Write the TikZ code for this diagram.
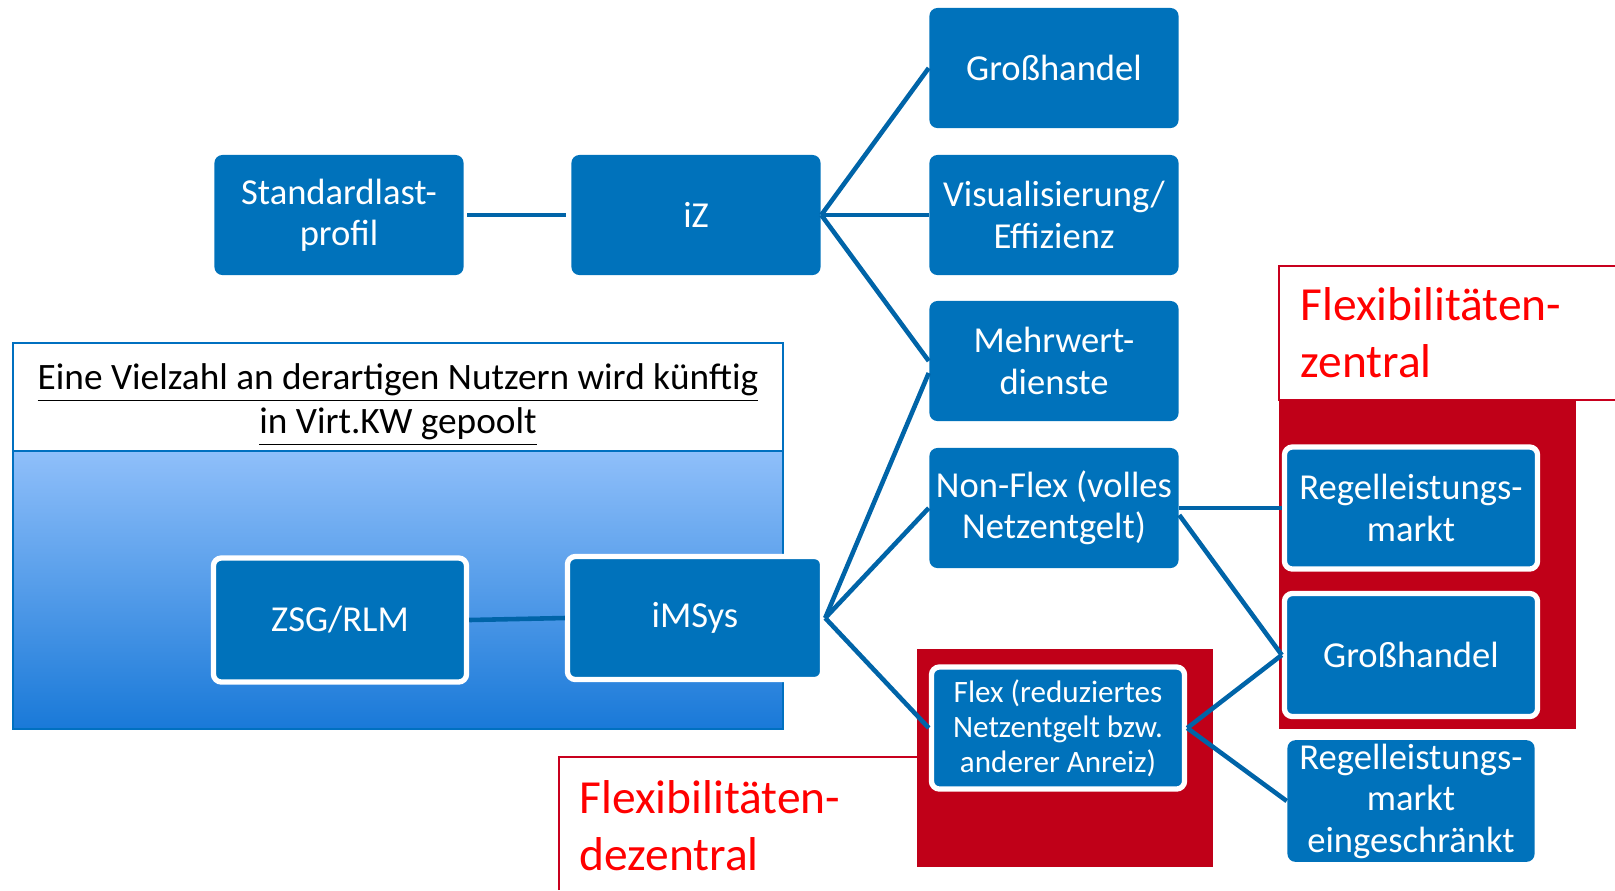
\documentclass[tikz,border=0pt]{standalone}
\usepackage{fontspec}
\setmainfont{Carlito}
\usepackage{tikz}
\definecolor{boxblue}{RGB}{0,114,187}
\definecolor{lineblue}{RGB}{0,100,168}
\definecolor{headblue}{RGB}{0,112,192}
\definecolor{flexred}{RGB}{192,0,24}
\definecolor{edgered}{RGB}{200,0,30}
\definecolor{gradtop}{RGB}{143,191,250}
\definecolor{gradbot}{RGB}{25,121,216}

\begin{document}
\begin{tikzpicture}[x=0.01cm, y=-0.01cm,
  box/.style={rectangle, rounded corners=0.08cm, fill=boxblue, text=white, minimum width=2.49cm, minimum height=1.2cm, align=center, inner sep=1pt, font=\fontsize{10.4}{11.8}\selectfont},
  wbox/.style={box, draw=white, line width=1.5pt},
  link/.style={draw=lineblue, line width=1.3pt},
  redtxt/.style={text=red, align=left, inner sep=0pt, font=\fontsize{13.5}{16.2}\selectfont}]
      \useasboundingbox (0,0) rectangle (1615,890);
      \shade[top color=gradtop, bottom color=gradbot] (13,451) rectangle (783,729);
      \draw[headblue, line width=0.7pt] (13,451) rectangle (783,729);
      \draw[headblue, line width=0.7pt, fill=white] (13,343) rectangle (783,451);
      \node[font=\fontsize{10.6}{12.6}\selectfont, align=center, inner sep=0pt] (hdr) at (398,405) {\underline{Eine Vielzahl an derartigen Nutzern wird künftig}\\\underline{in Virt.KW gepoolt}};
      \fill[white] (559,757) rectangle (917,890);
      \draw[edgered, line width=0.7pt] (559,890) -- (559,757) -- (917,757);
      \fill[flexred] (917,649) rectangle (1213,867);
      \fill[white] (1279,266) rectangle (1615,400);
      \draw[edgered, line width=0.7pt] (1615,266) -- (1279,266) -- (1279,400) -- (1615,400);
      \fill[flexred] (1279,400) rectangle (1576,729);
      \node[redtxt, anchor=west] (dez) at (579,826) {Flexibilitäten-\\dezentral};
      \node[redtxt, anchor=west] (zen) at (1300,333) {Flexibilitäten-\\zentral};
      \node[box] (slp) at (339,215) {Standardlast-\\profil};
      \node[box] (iz) at (696,215) {iZ};
      \node[box] (gh) at (1054,68) {Großhandel};
      \node[box] (vis) at (1054,215) {Visualisierung/\\Effizienz};
      \node[box] (mwd) at (1054,361) {Mehrwert-\\dienste};
      \node[box] (nflex) at (1054,508) {Non-Flex (volles\\Netzentgelt)};
      \node[wbox, minimum width=2.53cm, minimum height=1.24cm] (zsg) at (340,620) {ZSG/RLM};
      \node[wbox, minimum width=2.55cm, minimum height=1.23cm] (imsys) at (695,618) {iMSys};
      \node[wbox, minimum width=2.53cm, minimum height=1.22cm, font=\fontsize{8.85}{9.9}\selectfont] (flex) at (1058,728) {Flex (reduziertes\\Netzentgelt bzw.\\anderer Anreiz)};
      \node[wbox, minimum width=2.53cm, minimum height=1.22cm] (rlm) at (1411,508) {Regelleistungs-\\markt};
      \node[wbox, minimum width=2.53cm, minimum height=1.23cm] (gh2) at (1411,655) {Großhandel};
      \node[box, minimum width=2.47cm, minimum height=1.19cm] (rle) at (1411,801) {Regelleistungs-\\markt\\eingeschränkt};
      \draw[link, shorten <=0.03cm, shorten >=0.05cm] (slp.east) -- (iz.west);
      \draw[link] (iz.east) -- (gh.west);
      \draw[link] (iz.east) -- (vis.west);
      \draw[link] (iz.east) -- (mwd.west);
      \draw[link] (zsg.east) -- (imsys.west);
      \draw[link] (imsys.east) -- ([yshift=-0.12cm]mwd.west);
      \draw[link] (imsys.east) -- (nflex.west);
      \draw[link] (imsys.east) -- (flex.west);
      \draw[link] (nflex.east) -- (rlm.west);
      \draw[link] ([yshift=-0.07cm]nflex.east) -- (gh2.west);
      \draw[link] (flex.east) -- (gh2.west);
      \draw[link] (flex.east) -- (rle.west);
    \end{tikzpicture}
\end{document}
